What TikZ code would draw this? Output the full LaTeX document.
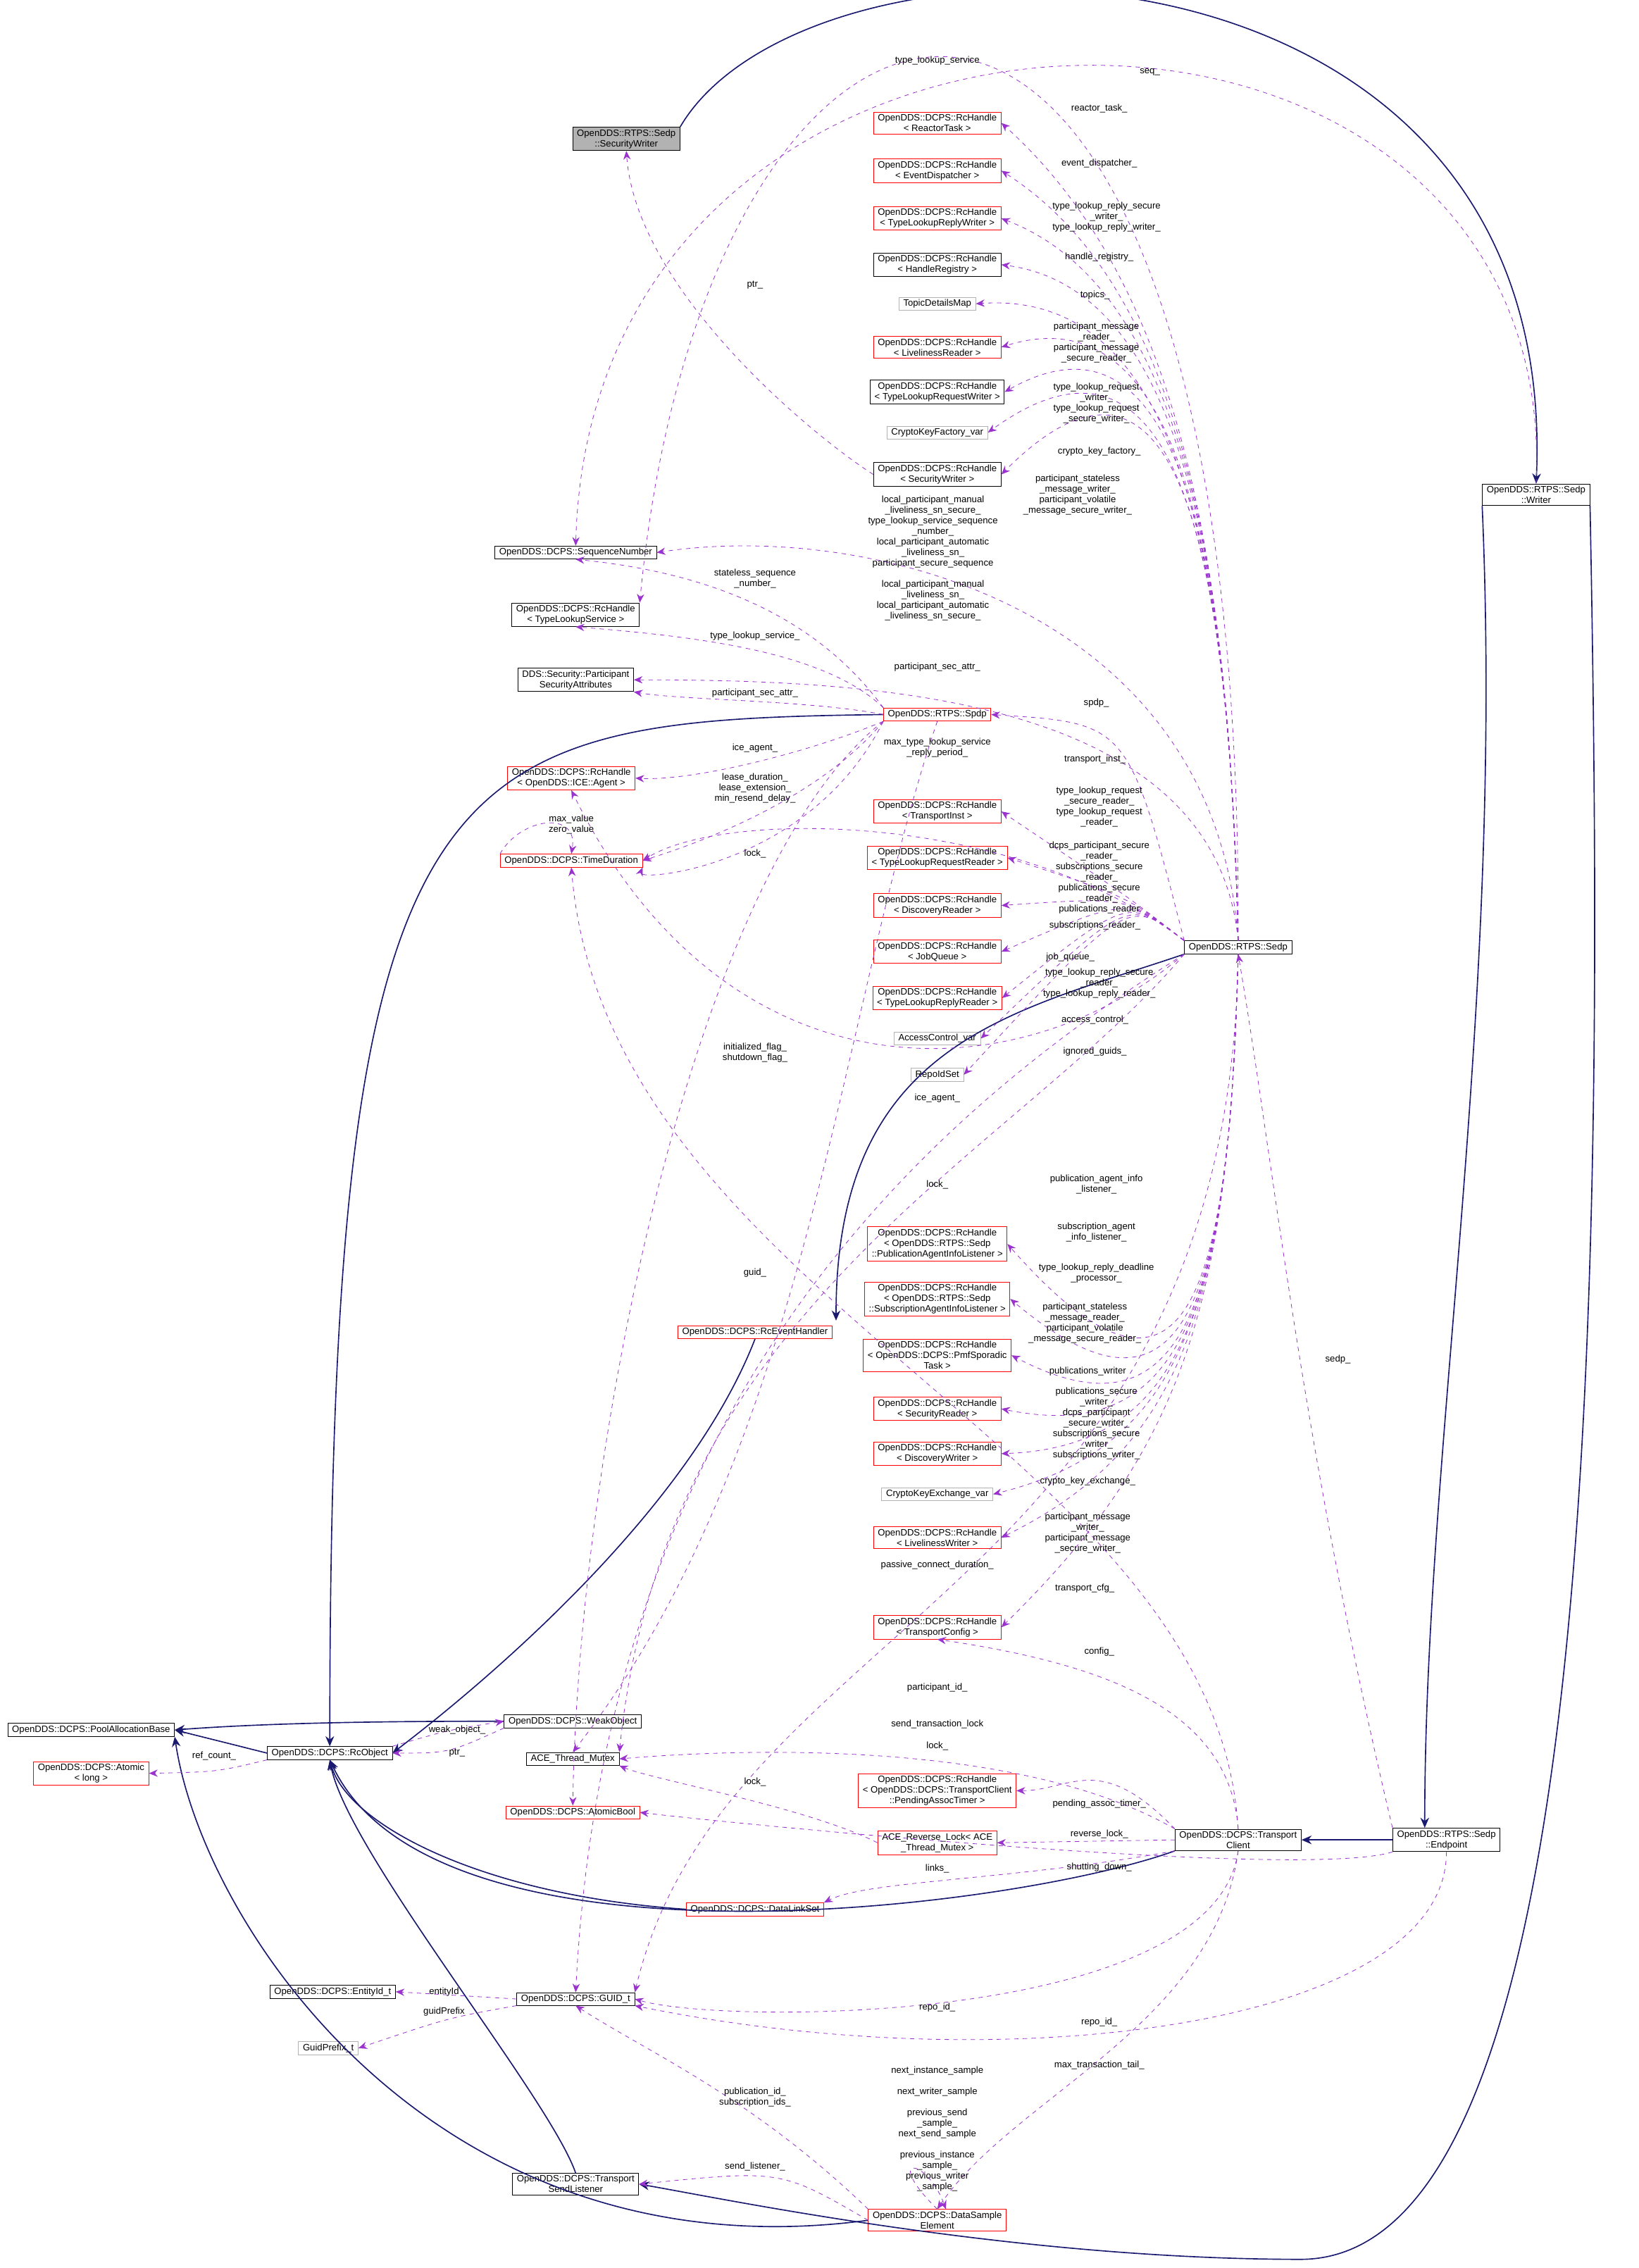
\documentclass[tikz,border=0pt]{standalone}
\usepackage{fontspec}
\setmainfont{Liberation Sans}
\usetikzlibrary{arrows.meta}
\definecolor{navyedge}{HTML}{191970}
\definecolor{useedge}{HTML}{9A32CD}
\tikzstyle{cls} = [draw=black, fill=white, rectangle, inner xsep=3pt, inner ysep=1.5pt, align=center, font=\fontsize{6.4}{7.3}\selectfont]
\tikzstyle{redcls} = [cls, draw=red]
\tikzstyle{graycls} = [cls, draw=gray!60]
\tikzstyle{cursel} = [cls, fill=gray!60]
\tikzstyle{inh} = [draw=navyedge, thick, -{Stealth[length=7pt,width=6pt]}]
\tikzstyle{uses} = [draw=useedge, dashed, -{Stealth[length=6pt,width=5pt]}]
\tikzstyle{lbl} = [align=center, inner sep=0.5pt, font=\fontsize{6.4}{7.3}\selectfont]

\begin{document}
\catcode`\_=12
\begin{tikzpicture}[x=1pt,y=-1pt]
\useasboundingbox (0,0) rectangle (1133,1568);
% nodes, left part
\node[cursel] (secw) at (433,96) {OpenDDS::RTPS::Sedp\\::SecurityWriter};
\node[cls] (writer) at (1062,342) {OpenDDS::RTPS::Sedp\\::Writer};
\node[cls] (seqnum) at (398,382) {OpenDDS::DCPS::SequenceNumber};
\node[cls] (tls) at (398,425) {OpenDDS::DCPS::RcHandle\\< TypeLookupService >};
\node[cls] (psa) at (398,470) {DDS::Security::Participant\\SecurityAttributes};
\node[redcls] (ice) at (395,538) {OpenDDS::DCPS::RcHandle\\< OpenDDS::ICE::Agent >};
\node[redcls] (tdur) at (395,595) {OpenDDS::DCPS::TimeDuration};
\node[redcls] (spdp) at (648,494) {OpenDDS::RTPS::Spdp};
\node[cls] (sedp) at (856,655) {OpenDDS::RTPS::Sedp};
\node[redcls] (rcevh) at (522,921) {OpenDDS::DCPS::RcEventHandler};
% right column
\node[redcls] (reactor) at (648,85) {OpenDDS::DCPS::RcHandle\\< ReactorTask >};
\node[redcls] (evdisp) at (648,118) {OpenDDS::DCPS::RcHandle\\< EventDispatcher >};
\node[redcls] (tlrw) at (648,151) {OpenDDS::DCPS::RcHandle\\< TypeLookupReplyWriter >};
\node[cls] (hreg) at (648,183) {OpenDDS::DCPS::RcHandle\\< HandleRegistry >};
\node[graycls] (topics) at (648,210) {TopicDetailsMap};
\node[redcls] (livr) at (648,240) {OpenDDS::DCPS::RcHandle\\< LivelinessReader >};
\node[cls] (tlqw) at (648,271) {OpenDDS::DCPS::RcHandle\\< TypeLookupRequestWriter >};
\node[graycls] (ckf) at (648,299) {CryptoKeyFactory_var};
\node[cls] (rcsw) at (648,328) {OpenDDS::DCPS::RcHandle\\< SecurityWriter >};
\node[redcls] (tinst) at (648,561) {OpenDDS::DCPS::RcHandle\\< TransportInst >};
\node[redcls] (tlqr) at (648,593) {OpenDDS::DCPS::RcHandle\\< TypeLookupRequestReader >};
\node[redcls] (dreader) at (648,626) {OpenDDS::DCPS::RcHandle\\< DiscoveryReader >};
\node[redcls] (jobq) at (648,658) {OpenDDS::DCPS::RcHandle\\< JobQueue >};
\node[redcls] (tlpr) at (648,690) {OpenDDS::DCPS::RcHandle\\< TypeLookupReplyReader >};
\node[graycls] (acv) at (648,718) {AccessControl_var};
\node[graycls] (ris) at (648,743) {RepoIdSet};
\node[redcls] (pail) at (648,860) {OpenDDS::DCPS::RcHandle\\< OpenDDS::RTPS::Sedp\\::PublicationAgentInfoListener >};
\node[redcls] (sail) at (648,898) {OpenDDS::DCPS::RcHandle\\< OpenDDS::RTPS::Sedp\\::SubscriptionAgentInfoListener >};
\node[redcls] (pmf) at (648,937) {OpenDDS::DCPS::RcHandle\\< OpenDDS::DCPS::PmfSporadic\\Task >};
\node[redcls] (secr) at (648,974) {OpenDDS::DCPS::RcHandle\\< SecurityReader >};
\node[redcls] (dwriter) at (648,1005) {OpenDDS::DCPS::RcHandle\\< DiscoveryWriter >};
\node[graycls] (ckex) at (648,1033) {CryptoKeyExchange_var};
\node[redcls] (livw) at (648,1063) {OpenDDS::DCPS::RcHandle\\< LivelinessWriter >};
\node[redcls] (tcfg) at (648,1125) {OpenDDS::DCPS::RcHandle\\< TransportConfig >};
% bottom part
\node[cls] (pool) at (63,1196) {OpenDDS::DCPS::PoolAllocationBase};
\node[redcls] (atomic) at (63,1226) {OpenDDS::DCPS::Atomic\\< long >};
\node[cls] (rcobj) at (228,1212) {OpenDDS::DCPS::RcObject};
\node[cls] (weakobj) at (396,1190) {OpenDDS::DCPS::WeakObject};
\node[cls] (mutex) at (396,1216) {ACE_Thread_Mutex};
\node[redcls] (abool) at (396,1253) {OpenDDS::DCPS::AtomicBool};
\node[redcls] (patimer) at (648,1238) {OpenDDS::DCPS::RcHandle\\< OpenDDS::DCPS::TransportClient\\::PendingAssocTimer >};
\node[redcls] (rlock) at (648,1274) {ACE_Reverse_Lock< ACE\\_Thread_Mutex >};
\node[redcls] (dls) at (522,1320) {OpenDDS::DCPS::DataLinkSet};
\node[cls] (tclient) at (856,1272) {OpenDDS::DCPS::Transport\\Client};
\node[cls] (endpoint) at (1000,1272) {OpenDDS::RTPS::Sedp\\::Endpoint};
\node[cls] (entid) at (230,1377) {OpenDDS::DCPS::EntityId_t};
\node[graycls] (gprefix) at (227,1416) {GuidPrefix_t};
\node[cls] (guid) at (398,1382) {OpenDDS::DCPS::GUID_t};
\node[cls] (tsl) at (398,1510) {OpenDDS::DCPS::Transport\\SendListener};
\node[redcls] (dse) at (648,1535) {OpenDDS::DCPS::DataSample\\Element};

% inheritance
\draw[inh] (secw.north east) .. controls (560,-65) and (1080,-65) .. (writer.north);
\draw[inh] (writer.south west) .. controls (1040,700) and (985,1000) .. (endpoint.north west -| 985,0);
\draw[inh] (endpoint.west) -- (tclient.east);
\draw[inh] (writer.south east) .. controls (1110,900) and (1105,1560) .. (900,1562) .. controls (700,1562) and (500,1520) .. (tsl.east);
\draw[inh] (tclient.south west) .. controls (700,1320) and (300,1370) .. (rcobj.south);
\draw[inh] (dls.west) .. controls (330,1310) and (240,1260) .. (rcobj.south);
\draw[inh] (tsl.north) .. controls (380,1450) and (240,1280) .. (rcobj.south);
\draw[inh] (dse.west) .. controls (300,1575) and (140,1330) .. (pool.south east);
\draw[inh] (rcevh.south) .. controls (470,1060) and (300,1190) .. (rcobj.east);
\draw[inh] (sedp.south west) .. controls (700,700) and (578,720) .. (578,913);
\draw[inh] (spdp.west) .. controls (300,498) and (228,520) .. (rcobj.north);
\draw[inh] (weakobj.west) .. controls (300,1190) and (200,1190) .. (pool.east);
\draw[inh] (rcobj.west) -- (pool.east);

% members of Sedp
\foreach \t in {reactor,evdisp,tlrw,hreg,topics,livr,tlqw,ckf,rcsw}
  \draw[uses] (sedp.north) .. controls (850,400) and (820,200) .. (\t.east);
\foreach \t in {tinst,tlqr,dreader,jobq,tlpr,acv,ris}
  \draw[uses] (sedp.north west) .. controls (780,620) .. (\t.east);
\foreach \t in {pail,sail,pmf,secr,dwriter,ckex,livw,tcfg}
  \draw[uses] (sedp.south) .. controls (850,900) and (820,1000) .. (\t.east);
\draw[uses] (sedp.north) .. controls (840,420) and (600,360) .. (seqnum.east);
\draw[uses] (sedp.north) .. controls (840,480) and (600,470) .. (psa.east);
\draw[uses] (sedp.north west) .. controls (780,500) .. (spdp.east);
\draw[uses] (sedp.north west) .. controls (700,560) and (500,560) .. (tdur.east);
\draw[uses] (sedp.south west) .. controls (700,760) and (500,760) .. (ice.south);
\draw[uses] (sedp.south west) .. controls (700,800) and (460,900) .. (mutex.north east);
\draw[uses] (sedp.south west) .. controls (660,760) and (420,950) .. (guid.north);
\draw[uses] (sedp.south) .. controls (850,1100) and (500,1120) .. (guid.north east);
\draw[uses] (sedp.north) .. controls (860,-160) and (490,-85) .. (tls.north east);
\draw[uses] (writer.north) .. controls (1080,-60) and (410,-55) .. (seqnum.north);
\draw[uses] (rcsw.west) .. controls (560,300) and (440,200) .. (secw.south);
\draw[uses] (endpoint.north west) .. controls (900,1000) and (880,800) .. (sedp.south);
% members of Spdp
\draw[uses] (spdp.north west) .. controls (560,420) and (480,395) .. (seqnum.south);
\draw[uses] (spdp.north west) .. controls (570,450) and (480,440) .. (tls.south);
\draw[uses] (spdp.west) .. controls (560,484) and (470,484) .. (psa.south east);
\draw[uses] (spdp.south west) .. controls (560,520) and (480,540) .. (ice.east);
\draw[uses] (spdp.south west) .. controls (560,560) and (460,590) .. (tdur.east);
\draw[uses] (spdp.south west) .. controls (560,600) and (440,610) .. (tdur.south east);
\draw[uses] (spdp.south) .. controls (580,700) and (560,1000) .. (mutex.north);
\draw[uses] (spdp.south west) .. controls (480,600) and (400,1000) .. (abool.north);
\draw[uses] (tdur.north west) .. controls (360,565) and (400,560) .. (tdur.north);
% members of TransportClient and others
\draw[uses] (tclient.north west) .. controls (760,1210) and (740,1238) .. (patimer.east);
\draw[uses] (tclient.west) -- (rlock.east);
\draw[uses] (tclient.north west) .. controls (700,1200) and (500,1210) .. (mutex.east);
\draw[uses] (tclient.south west) .. controls (700,1300) and (600,1300) .. (dls.north east);
\draw[uses] (tclient.north) .. controls (850,1180) and (760,1150) .. (tcfg.south);
\draw[uses] (tclient.north) .. controls (840,1000) and (420,900) .. (tdur.south);
\draw[uses] (tclient.south) .. controls (840,1400) and (500,1400) .. (guid.east);
\draw[uses] (tclient.south) .. controls (840,1400) and (700,1450) .. (dse.north);
\draw[uses] (rlock.west) .. controls (560,1250) and (450,1230) .. (mutex.south east);
\draw[uses] (endpoint.south west) .. controls (900,1300) and (500,1260) .. (abool.east);
\draw[uses] (endpoint.south) .. controls (1000,1400) and (700,1440) .. (guid.south east);
\draw[uses] (rcobj.south west) .. controls (150,1225) .. (atomic.east);
\draw[uses] (rcobj.north east) .. controls (310,1196) .. (weakobj.west);
\draw[uses] (weakobj.south west) .. controls (310,1212) .. (rcobj.east);
\draw[uses] (guid.west) -- (entid.east);
\draw[uses] (guid.south west) .. controls (310,1395) .. (gprefix.east);
\draw[uses] (dse.north west) .. controls (520,1450) and (450,1420) .. (guid.south);
\draw[uses] (dse.west) .. controls (540,1500) .. (tsl.east);
\draw[uses] (dse.north) .. controls (610,1490) and (640,1490) .. ([xshift=6pt]dse.north);

% labels
\foreach \p/\s in {
  {760,75}/{reactor_task_}, {760,113}/{event_dispatcher_},
  {765,150}/{type_lookup_reply_secure\\_writer_\\type_lookup_reply_writer_},
  {760,178}/{handle_registry_}, {757,204}/{topics_},
  {758,237}/{participant_message\\_reader_\\participant_message\\_secure_reader_},
  {758,279}/{type_lookup_request\\_writer_\\type_lookup_request\\_secure_writer_},
  {760,312}/{crypto_key_factory_},
  {745,342}/{participant_stateless\\_message_writer_\\participant_volatile\\_message_secure_writer_},
  {645,386}/{local_participant_manual\\_liveliness_sn_secure_\\type_lookup_service_sequence\\_number_\\local_participant_automatic\\_liveliness_sn_\\participant_secure_sequence\\ \\local_participant_manual\\_liveliness_sn_\\local_participant_automatic\\_liveliness_sn_secure_},
  {648,461}/{participant_sec_attr_}, {758,486}/{spdp_},
  {648,517}/{max_type_lookup_service\\_reply_period_},
  {757,525}/{transport_inst_},
  {760,558}/{type_lookup_request\\_secure_reader_\\type_lookup_request\\_reader_},
  {760,607}/{dcps_participant_secure\\_reader_\\subscriptions_secure\\_reader_\\publications_secure\\_reader_\\publications_reader},
  {757,640}/{subscriptions_reader_}, {740,662}/{job_queue_},
  {760,680}/{type_lookup_reply_secure\\_reader_\\type_lookup_reply_reader_},
  {757,705}/{access_control_}, {757,727}/{ignored_guids_},
  {648,759}/{ice_agent_}, {648,819}/{lock_},
  {758,819}/{publication_agent_info\\_listener_},
  {758,852}/{subscription_agent\\_info_listener_},
  {758,880}/{type_lookup_reply_deadline\\_processor_},
  {750,915}/{participant_stateless\\_message_reader_\\participant_volatile\\_message_secure_reader_},
  {752,948}/{publications_writer},
  {758,984}/{publications_secure\\_writer_\\dcps_participant\\_secure_writer_\\subscriptions_secure\\_writer_\\subscriptions_writer_},
  {752,1024}/{crypto_key_exchange_},
  {752,1060}/{participant_message\\_writer_\\participant_message\\_secure_writer_},
  {750,1098}/{transport_cfg_},
  {522,880}/{guid_}, {648,1167}/{participant_id_},
  {648,1082}/{passive_connect_duration_}, {925,940}/{sedp_},
  {795,50}/{seq_}, {648,42}/{type_lookup_service}, {522,197}/{ptr_},
  {522,400}/{stateless_sequence\\_number_}, {522,440}/{type_lookup_service_},
  {522,479}/{participant_sec_attr_}, {522,517}/{ice_agent_},
  {522,545}/{lease_duration_\\lease_extension_\\min_resend_delay_},
  {522,590}/{lock_}, {522,728}/{initialized_flag_\\shutdown_flag_},
  {395,570}/{max_value\\zero_value},
  {316,1196}/{weak_object_}, {316,1212}/{ptr_}, {148,1214}/{ref_count_},
  {760,1247}/{pending_assoc_timer_}, {760,1268}/{reverse_lock_},
  {648,1207}/{lock_}, {648,1192}/{send_transaction_lock}, {648,1292}/{links_},
  {760,1142}/{config_}, {648,1388}/{repo_id_}, {760,1428}/{max_transaction_tail_},
  {522,1232}/{lock_}, {760,1291}/{shutting_down_}, {760,1398}/{repo_id_},
  {307,1377}/{entityId}, {307,1391}/{guidPrefix},
  {522,1450}/{publication_id_\\subscription_ids_}, {522,1498}/{send_listener_},
  {648,1472}/{next_instance_sample\\ \\next_writer_sample\\ \\previous_send\\_sample_\\next_send_sample\\ \\previous_instance\\_sample_\\previous_writer\\_sample_}}
  \node[lbl] at (\p) {\s};
\end{tikzpicture}
\end{document}
